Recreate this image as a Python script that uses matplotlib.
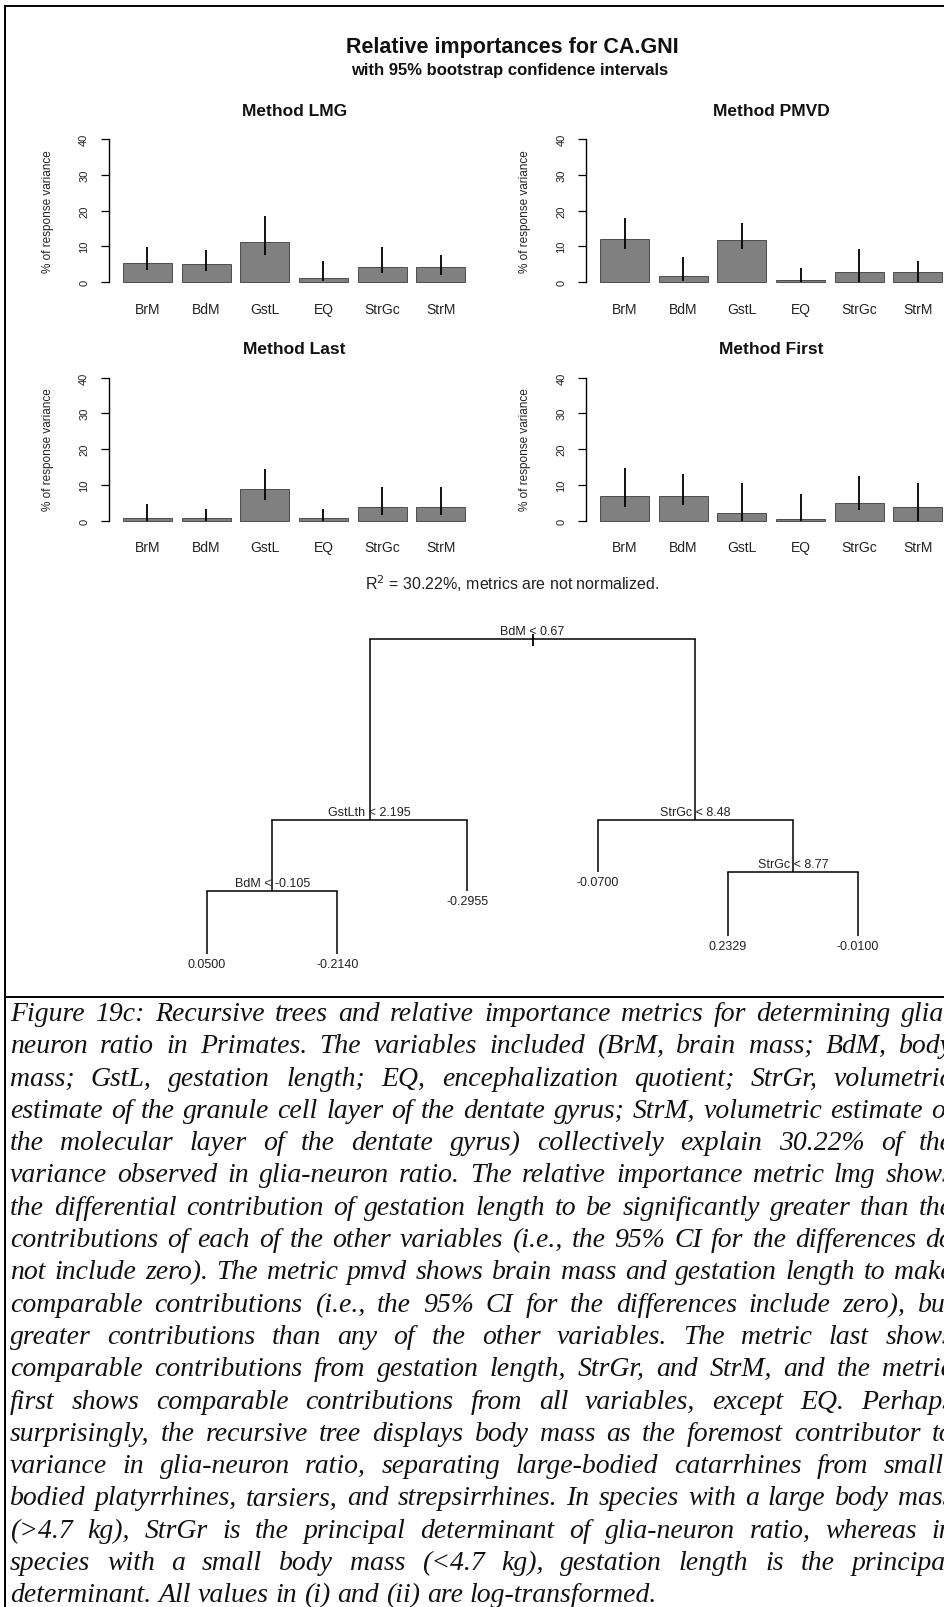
#!/usr/bin/env python3

# relative importance panels + regression tree + figure caption
import matplotlib
matplotlib.use("Agg")
from matplotlib import pyplot as plt
from matplotlib import transforms
from matplotlib.lines import Line2D
from matplotlib.font_manager import FontProperties

W, H = 944, 1608

predictors = ["BrM", "BdM", "GstL", "EQ", "StrGc", "StrM"]

# % of response variance, with 95% bootstrap limits
lmg = [5.4, 4.9, 11.1, 1.1, 4.3, 4.3]
lmg_lo = [3.4, 3.0, 7.6, 0.2, 2.5, 2.0]
lmg_hi = [9.9, 9.0, 18.4, 6.0, 9.7, 7.5]

pmvd = [12.1, 1.7, 11.7, 0.6, 2.7, 2.7]
pmvd_lo = [9.2, 0.2, 9.2, 0.0, 0.0, 0.0]
pmvd_hi = [17.9, 7.0, 16.4, 3.8, 9.3, 5.8]

last = [0.6, 0.6, 8.9, 0.6, 3.7, 3.7]
last_lo = [0.0, 0.0, 5.6, 0.0, 1.6, 1.6]
last_hi = [4.7, 3.2, 14.4, 3.1, 9.5, 9.4]

first = [6.9, 6.9, 2.2, 0.5, 4.8, 3.7]
first_lo = [3.9, 4.2, 0.0, 0.0, 2.8, 0.0]
first_hi = [14.8, 13.0, 10.6, 7.4, 12.5, 10.4]

method_names = ["LMG", "PMVD", "Last", "First"]
r_squared = 30.22

# regression tree (rpart numbering: children of n are 2n and 2n+1)
tree_node = [1, 2, 4, 8, 9, 5, 3, 6, 7, 14, 15]
tree_label = ["BdM < 0.67", "GstLth < 2.195", "BdM < -0.105", "0.0500", "-0.2140",
              "-0.2955", "StrGc < 8.48", "-0.0700", "StrGc < 8.77", "0.2329", "-0.0100"]
tree_height = [1.0, 0.425, 0.2, 0.0, 0.0, 0.2, 0.425, 0.26, 0.26, 0.057, 0.057]

caption_lines = [
    "Figure 19c: Recursive trees and relative importance metrics for determining glia-",
    "neuron ratio in Primates. The variables included (BrM, brain mass; BdM, body",
    "mass; GstL, gestation length; EQ, encephalization quotient; StrGr, volumetric",
    "estimate of the granule cell layer of the dentate gyrus; StrM, volumetric estimate of",
    "the molecular layer of the dentate gyrus) collectively explain 30.22% of the",
    "variance observed in glia-neuron ratio. The relative importance metric lmg shows",
    "the differential contribution of gestation length to be significantly greater than the",
    "contributions of each of the other variables (i.e., the 95% CI for the differences do",
    "not include zero). The metric pmvd shows brain mass and gestation length to make",
    "comparable contributions (i.e., the 95% CI for the differences include zero), but",
    "greater contributions than any of the other variables. The metric last shows",
    "comparable contributions from gestation length, StrGr, and StrM, and the metric",
    "first shows comparable contributions from all variables, except EQ. Perhaps",
    "surprisingly, the recursive tree displays body mass as the foremost contributor to",
    "variance in glia-neuron ratio, separating large-bodied catarrhines from small-",
    "bodied platyrrhines, tarsiers, and strepsirrhines. In species with a large body mass",
    "(>4.7 kg), StrGr is the principal determinant of glia-neuron ratio, whereas in",
    "species with a small body mass (<4.7 kg), gestation length is the principal",
    "determinant. All values in (i) and (ii) are log-transformed.",
]

plt.rcParams['font.family'] = ['Liberation Sans', 'DejaVu Sans']
INK = '#222222'

fig = plt.figure(figsize=(W / 100, H / 100), dpi=100)
fig.patch.set_facecolor('white')


def px_axes(left, top, width, height):
    return fig.add_axes([left / W, 1 - (top + height) / H, width / W, height / H])


def fx(x):
    return x / W


def fy(y):
    return 1 - y / H


# page frame and caption rule
for xs, ys in [([5, W], [7, 7]), ([5, 5], [7, H]), ([5, W], [998, 998])]:
    fig.add_artist(Line2D([fx(v) for v in xs], [fy(v) for v in ys], color='black', lw=1.4))

fig.text(fx(512), fy(47), "Relative importances for CA.GNI", ha='center', va='center',
         fontsize=15.5, fontweight='bold', color='#111111')
fig.text(fx(510), fy(70), "with 95% bootstrap confidence intervals", ha='center', va='center',
         fontsize=12, fontweight='bold', color='#111111')

panels = [(lmg, lmg_lo, lmg_hi), (pmvd, pmvd_lo, pmvd_hi),
          (last, last_lo, last_hi), (first, first_lo, first_hi)]
col_left = [109.3, 586.4]
row_zero = [283.0, 521.5]
row_title = [112, 350]
xunit, yunit = 48.9, 3.575

for k, (vals, lo, hi) in enumerate(panels):
    col, row = k % 2, k // 2
    left, zero = col_left[col], row_zero[row]
    ax = px_axes(left, zero - 41.6 * yunit, 7.56 * xunit, 43.2 * yunit)
    ax.set_xlim(-0.08, 7.48)
    ax.set_ylim(-1.6, 41.6)
    xpos = [0.7 + 1.2 * i for i in range(len(predictors))]
    ax.bar(xpos, vals, width=1.0, color='#808080', edgecolor='#3a3a3a', linewidth=0.6)
    ax.vlines(xpos, lo, hi, color='black', lw=1.3)
    for s in ['top', 'right', 'bottom']:
        ax.spines[s].set_visible(False)
    ax.spines['left'].set_bounds(0, 40)
    ax.spines['left'].set_linewidth(1.0)
    ax.set_yticks([0, 10, 20, 30, 40])
    ax.set_yticklabels(['0', '10', '20', '30', '40'], rotation=90, va='center',
                       fontsize=8, color=INK)
    ax.tick_params(axis='y', length=5.5, width=0.9, pad=9)
    ax.set_xticks(xpos)
    ax.set_xticklabels(predictors, fontsize=10, color=INK)
    ax.tick_params(axis='x', length=0, pad=10)
    ax.patch.set_alpha(0)
    ax.text(-0.166, 20, "% of response variance", rotation=90, ha='center', va='center',
            fontsize=8.5, color=INK,
            transform=transforms.blended_transform_factory(ax.transAxes, ax.transData))
    fig.text(fx(left + 7.56 * xunit / 2), fy(row_title[row]), "Method " + method_names[k],
             ha='center', va='center', fontsize=12.5, fontweight='bold', color='#111111')

fig.text(fx(512), fy(584), r"R$^2$ = %.2f%%, metrics are not normalized." % r_squared,
         ha='center', va='center', fontsize=11.5, color=INK)

# tree: leaves spaced evenly in order, splits centred over their children
nodes = set(tree_node)
height = dict(zip(tree_node, tree_height))
label = dict(zip(tree_node, tree_label))
xpos = {}
order = [0]


def place(n):
    if 2 * n in nodes:
        place(2 * n)
        place(2 * n + 1)
        xpos[n] = (xpos[2 * n] + xpos[2 * n + 1]) / 2
    else:
        order[0] += 1
        xpos[n] = order[0]


place(1)

tx = px_axes(142, 600, 781, 385)
tx.set_xlim(0.5, 6.5)
tx.set_ylim(-30 / 315, 1 + 40 / 315)
tx.axis('off')
for n in tree_node:
    if 2 * n in nodes:
        a, b = 2 * n, 2 * n + 1
        tx.plot([xpos[a], xpos[b]], [height[n], height[n]], color='black', lw=1.1)
        tx.vlines([xpos[a], xpos[b]], [height[a], height[b]], height[n], color='black', lw=1.1)
        tx.annotate(label[n], (xpos[n], height[n]), xytext=(0, 5.5), textcoords='offset points',
                    ha='center', va='center', fontsize=9, color=INK)
    else:
        tx.annotate(label[n], (xpos[n], height[n]), xytext=(0, -7), textcoords='offset points',
                    ha='center', va='center', fontsize=9, color=INK)
tx.vlines(xpos[1], height[1] - 7 / 315, height[1] + 5 / 315, color='black', lw=1.3)

# justified caption
renderer = fig.canvas.get_renderer()
text_left, text_right = 10, 953


def word_widths(words, fp):
    return [renderer.get_text_width_height_descent(w, fp, ismath=False)[0] for w in words]


size = 20.0
while True:
    fp = FontProperties(family='Liberation Serif', style='italic', size=size)
    em = size * 100 / 72
    fits = True
    for line in caption_lines[:-1]:
        words = line.split()
        gap = (text_right - text_left - sum(word_widths(words, fp))) / (len(words) - 1)
        if gap < 0.2 * em:
            fits = False
            break
    if fits:
        break
    size -= 0.25

for i, line in enumerate(caption_lines):
    base = 1021 + 32.3 * i
    words = line.split()
    ws = word_widths(words, fp)
    if i < len(caption_lines) - 1:
        gap = (text_right - text_left - sum(ws)) / (len(words) - 1)
    else:
        gap = 0.25 * size * 100 / 72
    x = text_left
    for w, wd in zip(words, ws):
        fig.text(fx(x), fy(base), w, fontproperties=fp, ha='left', va='baseline', color='#111111')
        x += wd + gap

print('caption size', size)
fig.savefig('out.png', dpi=100)
